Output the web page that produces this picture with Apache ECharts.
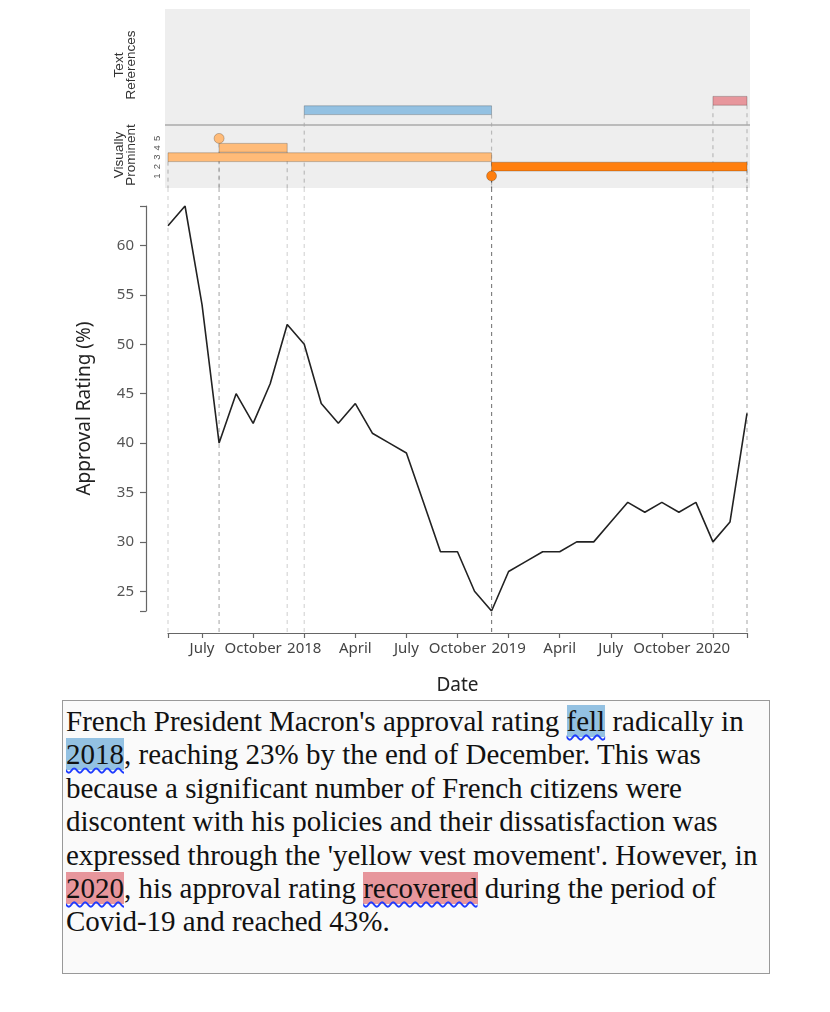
<!DOCTYPE html>
<html lang="en">
<head>
<meta charset="UTF-8">
<title>Macron approval rating</title>
<script src="https://cdn.jsdelivr.net/npm/echarts@6/dist/echarts.min.js"></script>
<style>
    body { margin: 0; background: #fff; }
    #chart { position: absolute; left: 0; top: 0; width: 830px; height: 1012px; }
    #story {
        position: absolute; left: 62px; top: 700px; width: 701px; height: 268px;
        border: 1.5px solid #999; background: #fafafa; color: #111;
        padding: 4px 2px 0 3px; white-space: nowrap;
        font-family: "Liberation Serif", "Times New Roman", serif; font-size: 29px; line-height: 33.4px;
    }
    .ref { text-decoration: underline wavy #1f3cff; text-decoration-thickness: 1.5px; text-underline-offset: 3px; }
    .fell { background: #93c1e2; }
    .recovered { background: #e7969c; }
</style>
</head>
<body>
<div id="chart"></div>
<div id="story">French President Macron's approval rating <span class="ref fell">fell</span> radically in<br><span class="ref fell">2018</span>, reaching 23% by the end of December. This was<br>because a significant number of French citizens were<br>discontent with his policies and their dissatisfaction was<br>expressed through the 'yellow vest movement'. However, in<br><span class="ref recovered">2020</span>, his approval rating <span class="ref recovered">recovered</span> during the period of<br>Covid-19 and reached 43%.</div>
<script>
    // monthly approval rating (%)
    var months = ['2017-05', '2017-06', '2017-07', '2017-08', '2017-09', '2017-10', '2017-11', '2017-12',
        '2018-01', '2018-02', '2018-03', '2018-04', '2018-05', '2018-06', '2018-07', '2018-08', '2018-09', '2018-10', '2018-11', '2018-12',
        '2019-01', '2019-02', '2019-03', '2019-04', '2019-05', '2019-06', '2019-07', '2019-08', '2019-09', '2019-10', '2019-11', '2019-12',
        '2020-01', '2020-02', '2020-03'];
    var approval = [62, 64, 54, 40, 45, 42, 46, 52,
        50, 44, 42, 44, 41, 40, 39, 34, 29, 29, 25, 23,
        27, 28, 29, 29, 30, 30, 32, 34, 33, 34, 33, 34,
        30, 32, 43];

    var tickMonths = ['2017-07', '2017-10', '2018-01', '2018-04', '2018-07', '2018-10', '2019-01', '2019-04', '2019-07', '2019-10', '2020-01'];
    var tickLabels = ['July', 'October', '2018', 'April', 'July', 'October', '2019', 'April', 'July', 'October', '2020'];
    var yTicks = [25, 30, 35, 40, 45, 50, 55, 60];
    var yMin = 23, yMax = 64;

    // text references: [from, to, row, kind]
    var textRefs = [['2018-01', '2018-12', 1, 'fell'], ['2020-01', '2020-03', 2, 'recovered']];
    // visually prominent spans: [from, to, level, kind]
    var prominentSpans = [['2017-05', '2018-12', 3, 'light'], ['2017-08', '2017-12', 4, 'light'], ['2018-12', '2020-03', 2, 'dark']];
    // visually prominent points: [at, level, kind]
    var prominentPoints = [['2017-08', 5, 'light'], ['2018-12', 1, 'dark']];
    var levels = [1, 2, 3, 4, 5];

    var colors = { fell: '#93c1e2', recovered: '#e7969c', light: '#ffbb78', dark: '#ff7f0e' };

    // layout (pixels)
    var PANEL = { left: 165, right: 750, top: 9, bottom: 188 };
    var PLOT = { left: 168, right: 747, top: 206, bottom: 611 };
    var X_OFFSET = 22, Y_OFFSET = 22;
    var LEVEL_PX = 9.4, LEVEL1_Y = 176, TEXT_ROW_BASE = 7;

    var idx = function (m) { return months.indexOf(m); };
    var last = months.length - 1;
    var monthPx = (PLOT.right - PLOT.left) / last;
    var padL = (PLOT.left - PANEL.left) / monthPx, padR = (PANEL.right - PLOT.right) / monthPx;
    var levelMin = 1 - (PANEL.bottom - LEVEL1_Y) / LEVEL_PX;
    var levelMax = 1 + (LEVEL1_Y - PANEL.top) / LEVEL_PX;

    var spanData = [];
    var panelGuides = [];
    var plotGuides = [];
    textRefs.forEach(function (r) {
        var lv = TEXT_ROW_BASE + r[2];
        spanData.push({ value: [idx(r[0]), idx(r[1]), lv], itemStyle: { color: colors[r[3]] } });
        panelGuides.push([idx(r[0]), lv - 0.47], [idx(r[1]), lv - 0.47]);
        plotGuides.push([idx(r[0])], [idx(r[1])]);
    });
    prominentSpans.forEach(function (s) {
        spanData.push({ value: [idx(s[0]), idx(s[1]), s[2]], itemStyle: { color: colors[s[3]] } });
        panelGuides.push([idx(s[0]), s[2] - 0.47], [idx(s[1]), s[2] - 0.47]);
        plotGuides.push([idx(s[0])], [idx(s[1])]);
    });
    var pointData = prominentPoints.map(function (p) {
        panelGuides.push([idx(p[0]), p[1] - 0.53]);
        plotGuides.push([idx(p[0])]);
        return { value: [idx(p[0]), p[1]], itemStyle: { color: colors[p[2]] } };
    });

    var axisColor = '#666';
    var font = '"Noto Sans", "Open Sans", sans-serif';

    var option = {
        animation: false,
        grid: [
            { left: PANEL.left, width: PANEL.right - PANEL.left, top: PANEL.top, height: PANEL.bottom - PANEL.top,
              show: true, backgroundColor: '#eeeeee', borderWidth: 0 },
            { left: PLOT.left, width: PLOT.right - PLOT.left, top: PLOT.top, height: PLOT.bottom - PLOT.top }
        ],
        xAxis: [
            { gridIndex: 0, type: 'value', min: -padL, max: last + padR, show: false },
            {
                gridIndex: 1, type: 'value', min: 0, max: last, offset: X_OFFSET,
                axisLine: { show: true, onZero: false, lineStyle: { color: axisColor, width: 1.2 } },
                axisTick: { show: true, length: 5, lineStyle: { color: axisColor, width: 1.2 },
                    customValues: [0].concat(tickMonths.map(idx)).concat([last]) },
                axisLabel: { customValues: tickMonths.map(idx), fontSize: 15, color: '#444', fontFamily: font, margin: 8,
                    formatter: function (v) { return tickLabels[tickMonths.map(idx).indexOf(v)]; } },
                splitLine: { show: false },
                name: 'Date', nameLocation: 'middle', nameGap: 43,
                nameTextStyle: { fontSize: 19, color: '#222', fontFamily: font }
            }
        ],
        yAxis: [
            {
                gridIndex: 0, type: 'value', min: levelMin, max: levelMax,
                axisLine: { show: false, onZero: false }, axisTick: { show: false }, splitLine: { show: false },
                axisLabel: { customValues: levels, rotate: 90, fontSize: 9.5, color: '#555', margin: 3, fontFamily: 'Liberation Sans' }
            },
            {
                gridIndex: 1, type: 'value', min: yMin, max: yMax, offset: Y_OFFSET,
                axisLine: { show: true, onZero: false, lineStyle: { color: axisColor, width: 1.2 } },
                axisTick: { show: true, length: 6, lineStyle: { color: axisColor, width: 1.2 },
                    customValues: [yMin].concat(yTicks).concat([yMax]) },
                axisLabel: { customValues: yTicks, fontSize: 15, color: '#555', fontFamily: font, margin: 12 },
                splitLine: { show: false },
                name: 'Approval Rating (%)', nameLocation: 'middle', nameGap: 52, nameRotate: 90,
                nameTextStyle: { fontSize: 19, color: '#222', fontFamily: font }
            }
        ],
        graphic: [
            { type: 'text', x: 125, y: 65, rotation: Math.PI / 2,
              style: { text: 'Text\nReferences', fontSize: 13.5, lineHeight: 12, fill: '#333', fontFamily: 'Liberation Sans', align: 'center', verticalAlign: 'middle' } },
            { type: 'text', x: 125, y: 155, rotation: Math.PI / 2,
              style: { text: 'Visually\nProminent', fontSize: 13.5, lineHeight: 12, fill: '#333', fontFamily: 'Liberation Sans', align: 'center', verticalAlign: 'middle' } }
        ],
        series: [
            {
                // guides inside the reference panel, from each mark down to the panel bottom
                type: 'custom', xAxisIndex: 0, yAxisIndex: 0, z: 1, clip: false, silent: true,
                data: panelGuides,
                renderItem: function (params, api) {
                    var p = api.coord([api.value(0), api.value(1)]);
                    return { type: 'line', shape: { x1: p[0], y1: p[1], x2: p[0], y2: PANEL.bottom },
                        style: { stroke: 'rgba(0,0,0,0.22)', lineWidth: 1.2, lineDash: [4, 4] } };
                }
            },
            {
                type: 'custom', xAxisIndex: 0, yAxisIndex: 0, z: 3, clip: false, silent: true,
                data: spanData,
                renderItem: function (params, api) {
                    var a = api.coord([api.value(0), api.value(2)]);
                    var b = api.coord([api.value(1), api.value(2)]);
                    var h = api.size([0, 1])[1] * 0.94;
                    return { type: 'rect', shape: { x: a[0], y: a[1] - h / 2, width: b[0] - a[0], height: h },
                        style: { fill: api.visual('color'), stroke: 'rgba(0,0,0,0.22)', lineWidth: 1 } };
                },
                markLine: {
                    silent: true, symbol: 'none', label: { show: false },
                    lineStyle: { color: '#aaa', width: 1.5, type: 'solid' },
                    data: [{ yAxis: TEXT_ROW_BASE - 0.5 }]
                }
            },
            {
                type: 'scatter', xAxisIndex: 0, yAxisIndex: 0, z: 4, silent: true,
                symbolSize: 10, data: pointData,
                itemStyle: { borderColor: 'rgba(0,0,0,0.22)', borderWidth: 1, opacity: 1 }
            },
            {
                // guides through the line chart
                type: 'custom', xAxisIndex: 1, yAxisIndex: 1, z: 1, clip: false, silent: true,
                data: plotGuides,
                renderItem: function (params, api) {
                    var p = api.coord([api.value(0), yMin]);
                    return { type: 'line', shape: { x1: p[0], y1: PANEL.bottom, x2: p[0], y2: PLOT.bottom + X_OFFSET },
                        style: { stroke: 'rgba(0,0,0,0.16)', lineWidth: 1.2, lineDash: [4, 4] } };
                }
            },
            {
                type: 'line', xAxisIndex: 1, yAxisIndex: 1, z: 5,
                data: approval.map(function (v, i) { return [i, v]; }),
                showSymbol: false, symbol: 'none',
                lineStyle: { color: '#222', width: 1.6 }
            }
        ]
    };

    var myChart = echarts.init(document.getElementById('chart'));
    myChart.setOption(option);
</script>
</body>
</html>
